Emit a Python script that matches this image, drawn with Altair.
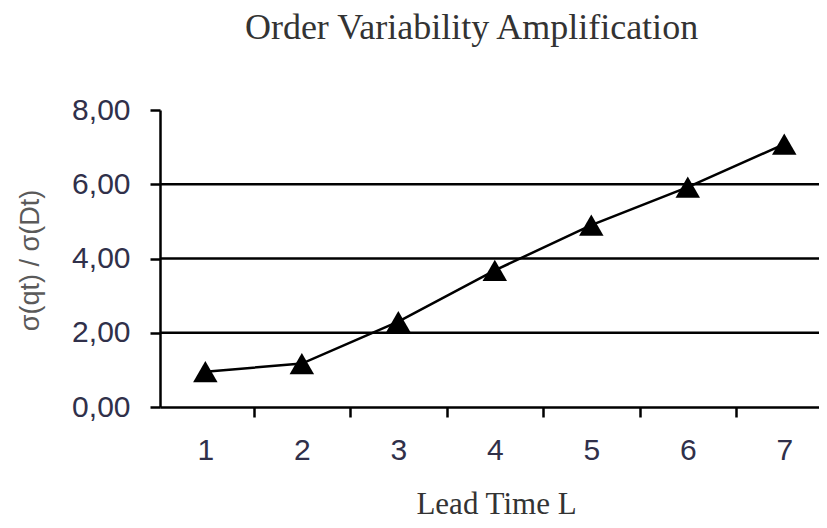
import altair as alt
import pandas as pd

lead_time = [1, 2, 3, 4, 5, 6, 7]
ratio = [0.95, 1.17, 2.30, 3.68, 4.90, 5.92, 7.08]
y_ticks = [0, 2, 4, 6, 8]
grid_values = [2, 4, 6]
x_axis_values = [1, 1.5, 2, 2.5, 3, 3.5, 4, 4.5, 5, 5.5, 6, 6.5, 7]

df = pd.DataFrame({"L": lead_time, "r": ratio})
grid_df = pd.DataFrame({"r": grid_values})

label_color = "#30304a"
x_scale = alt.Scale(domain=[0.53, 7.36], nice=False, zero=False)
y_scale = alt.Scale(domain=[0, 8], nice=False)

x_enc = alt.X(
    "L:Q",
    scale=x_scale,
    axis=alt.Axis(
        values=x_axis_values,
        grid=False,
        domainColor="black",
        domainWidth=2.5,
        tickColor="black",
        tickWidth=2.5,
        tickSize=10,
        tickOpacity={"condition": {"test": "datum.value % 1 == 0", "value": 0}, "value": 1},
        labelExpr="datum.value % 1 == 0 ? format(datum.value, 'd') : ''",
        labelFont="Liberation Sans",
        labelFontSize=30,
        labelColor=label_color,
        labelPadding=18,
        labelOverlap=False,
        labelFlush=False,
        title="Lead Time  L",
        titleFont="Liberation Serif",
        titleFontSize=31,
        titleFontWeight="normal",
        titleColor="#333333",
        titleX=336,
        titleY=106,
        titleBaseline="alphabetic",
        titleAnchor="start",
        titleAlign="center",
    ),
)

y_enc = alt.Y(
    "r:Q",
    scale=y_scale,
    axis=alt.Axis(
        values=y_ticks,
        grid=False,
        domainColor="black",
        domainWidth=2.5,
        tickColor="black",
        tickWidth=2.5,
        tickSize=10,
        labelExpr="replace(format(datum.value, '.2f'), '.', ',')",
        labelFont="Liberation Sans",
        labelFontSize=30,
        labelColor=label_color,
        labelPadding=20,
        title="σ(qt) / σ(Dt)",
        titleFont="Liberation Sans",
        titleFontSize=27,
        titleFontWeight="normal",
        titleColor="#5a5a5a",
        titleX=-130,
        titleY=150,
        titleAngle=270,
        titleBaseline="middle",
        titleAlign="center",
    ),
)

grid = alt.Chart(grid_df).mark_rule(color="black", strokeWidth=2.5).encode(y=y_enc)

base = alt.Chart(df).encode(x=x_enc, y=y_enc)
line = base.mark_line(color="black", strokeWidth=2.5)
points = base.mark_point(shape="triangle-up", filled=True, color="black", size=600, opacity=1)

chart = (
    alt.layer(line, grid, points)
    .properties(
        width=659,
        height=297,
        background="white",
        title=alt.TitleParams(
            "Order Variability Amplification",
            font="Liberation Serif",
            fontSize=36,
            fontWeight="normal",
            color="#333333",
            anchor="middle",
            frame="group",
            dx=-18,
            offset=48,
        ),
        autosize=alt.AutoSizeParams(type="none"),
        padding={"left": 152, "top": 102, "right": 0, "bottom": 112},
    )
    .configure_view(stroke=None)
)

chart.save("out.html", embed_options={"renderer": "svg", "actions": False})
